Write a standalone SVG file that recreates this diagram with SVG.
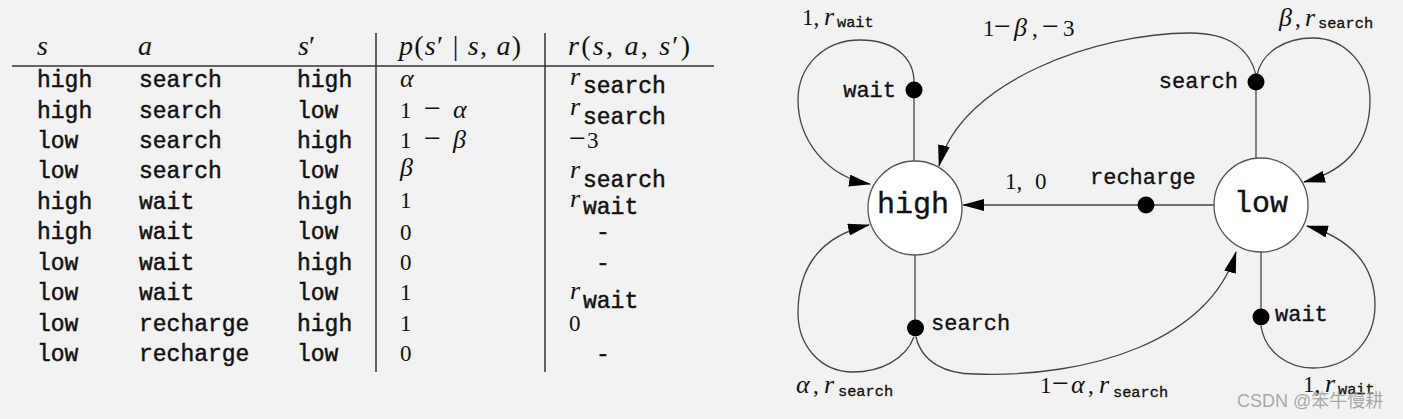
<svg xmlns="http://www.w3.org/2000/svg" width="1403" height="419" viewBox="0 0 1403 419">
<defs>
<style>
.tt{font-family:"Liberation Mono","DejaVu Sans Mono",monospace;font-size:23px;fill:#111;stroke:#111;stroke-width:0.45}
.tts{font-family:"Liberation Mono","DejaVu Sans Mono",monospace;font-size:15.3px;fill:#111;stroke:#111;stroke-width:0.3}
.ttl{font-family:"Liberation Mono","DejaVu Sans Mono",monospace;font-size:22px;fill:#111;stroke:#111;stroke-width:0.35}
.ttn{font-family:"Liberation Mono","DejaVu Sans Mono",monospace;font-size:30px;fill:#111;stroke:#111;stroke-width:0.4}
.m{font-family:"Liberation Serif","DejaVu Serif",serif;font-size:23px;fill:#111}
.mh{font-family:"Liberation Serif","DejaVu Serif",serif;font-size:28px;fill:#111}
.i{font-style:italic}
.g{font-size:26px}
.mn{font-size:30px}
.rule{stroke:#333;stroke-width:1.5;fill:none}
.edge{stroke:#444;stroke-width:1.3;fill:none}
.arr{marker-end:url(#ah)}
.state{fill:#fff;stroke:#555;stroke-width:1.3}
.dot{fill:#000}
</style>
<marker id="ah" markerUnits="userSpaceOnUse" viewBox="0 0 22 12" refX="21" refY="6" markerWidth="22" markerHeight="12" orient="auto">
<path d="M0,0 L22,6 L0,12 z" fill="#000"/>
</marker>
</defs>
<rect width="1403" height="419" fill="#f2f2f2"/>

<g id="table">
<line class="rule" x1="12" y1="66" x2="714" y2="66"/>
<line class="rule" x1="376" y1="33" x2="376" y2="372"/>
<line class="rule" x1="545" y1="33" x2="545" y2="372"/>
<text class="mh i" x="37" y="55">s</text>
<text class="mh i" x="138" y="55">a</text>
<text class="mh" x="298" y="55"><tspan class="i">s</tspan>′</text>
<text class="mh" x="399" y="55" textLength="122" lengthAdjust="spacing"><tspan class="i">p</tspan>(<tspan class="i">s</tspan>′ | <tspan class="i">s</tspan>, <tspan class="i">a</tspan>)</text>
<text class="mh" x="568" y="55" textLength="122" lengthAdjust="spacing"><tspan class="i">r</tspan>(<tspan class="i">s</tspan>, <tspan class="i">a</tspan>, <tspan class="i">s</tspan>′)</text>

<g class="tt">
<text x="37" y="87">high</text><text x="139" y="87">search</text><text x="297" y="87">high</text>
<text x="37" y="117.5">high</text><text x="139" y="117.5">search</text><text x="297" y="117.5">low</text>
<text x="37" y="148">low</text><text x="139" y="148">search</text><text x="297" y="148">high</text>
<text x="37" y="178">low</text><text x="139" y="178">search</text><text x="297" y="178">low</text>
<text x="37" y="208.5">high</text><text x="139" y="208.5">wait</text><text x="297" y="208.5">high</text>
<text x="37" y="239">high</text><text x="139" y="239">wait</text><text x="297" y="239">low</text>
<text x="37" y="269.5">low</text><text x="139" y="269.5">wait</text><text x="297" y="269.5">high</text>
<text x="37" y="300">low</text><text x="139" y="300">wait</text><text x="297" y="300">low</text>
<text x="37" y="330.5">low</text><text x="139" y="330.5">recharge</text><text x="297" y="330.5">high</text>
<text x="37" y="360.5">low</text><text x="139" y="360.5">recharge</text><text x="297" y="360.5">low</text>
</g>

<text class="m i g" x="400" y="86.5">α</text>
<text class="m" y="118"><tspan x="400">1</tspan><tspan x="424" class="mn">−</tspan><tspan x="453" class="i g">α</tspan></text>
<text class="m" y="148"><tspan x="400">1</tspan><tspan x="424" class="mn">−</tspan><tspan x="453" class="i g">β</tspan></text>
<text class="m i g" x="400" y="176">β</text>
<text class="m" x="400" y="208">1</text>
<text class="m" x="400" y="240">0</text>
<text class="m" x="400" y="270">0</text>
<text class="m" x="400" y="300">1</text>
<text class="m" x="400" y="331">1</text>
<text class="m" x="400" y="361">0</text>

<text class="m i g" x="570" y="85">r</text><text class="tt" x="583" y="93">search</text>
<text class="m i g" x="570" y="115">r</text><text class="tt" x="583" y="124">search</text>
<text class="m" y="148"><tspan x="569" class="mn">−</tspan><tspan x="587">3</tspan></text>
<text class="m i g" x="570" y="178">r</text><text class="tt" x="583" y="187">search</text>
<text class="m i g" x="570" y="207">r</text><text class="tt" x="583" y="214">wait</text>
<text class="tt" x="603" y="239" text-anchor="middle">-</text>
<text class="tt" x="603" y="269.5" text-anchor="middle">-</text>
<text class="m i g" x="570" y="299">r</text><text class="tt" x="583" y="308">wait</text>
<text class="m" x="569" y="331">0</text>
<text class="tt" x="603" y="360.5" text-anchor="middle">-</text>
</g>

<g id="connectors">
<line class="edge" x1="914" y1="90" x2="914" y2="161"/>
<line class="edge" x1="915" y1="255" x2="915" y2="328"/>
<line class="edge" x1="1256" y1="82" x2="1256" y2="159"/>
<line class="edge" x1="1261" y1="251" x2="1261" y2="317"/>
<line class="edge" x1="1214" y1="205" x2="1146" y2="205"/>
<line class="edge arr" x1="1146" y1="205" x2="963" y2="205"/>
<path class="edge arr" d="M914,82 C914,60 897,40 860,40 C823,40 798,67 798,100 C798,140 827,177 870,184"/>
<path class="edge arr" d="M914,337 C905,360 880,372 853,372 C820,372 798,345 798,313 C798,268 820,236 869,225"/>
<path class="edge arr" d="M916,337 C922,362 945,374 975,374 C1090,378 1210,340 1236,252"/>
<path class="edge arr" d="M1256,75 C1250,50 1230,33 1190,33 C1100,33 960,80 939,166"/>
<path class="edge arr" d="M1257,75 C1262,52 1285,38 1313,38 C1345,38 1370,65 1370,100 C1370,140 1350,170 1304,182"/>
<path class="edge arr" d="M1261,326 C1265,352 1288,368 1313,368 C1350,368 1375,340 1375,305 C1375,265 1350,238 1307,226"/>

<text class="m" y="25"><tspan x="802">1,</tspan><tspan x="824" class="i g">r</tspan></text><text class="tts" x="837" y="27">wait</text>
<text class="m" y="36"><tspan x="983">1</tspan><tspan x="994" class="mn">−</tspan><tspan x="1014" class="i g">β</tspan><tspan x="1032">,</tspan><tspan x="1042" class="mn">−</tspan><tspan x="1063">3</tspan></text>
<text class="m" y="26"><tspan x="1279" class="i g">β</tspan><tspan x="1295">,</tspan><tspan x="1305" class="i g">r</tspan></text><text class="tts" x="1318" y="28">search</text>
<text class="m" y="189"><tspan x="1005">1,</tspan><tspan x="1035">0</tspan></text>
<text class="m" y="393"><tspan x="796" class="i g">α</tspan><tspan x="813">,</tspan><tspan x="824" class="i g">r</tspan></text><text class="tts" x="838" y="396">search</text>
<text class="m" y="393"><tspan x="1040">1</tspan><tspan x="1052" class="mn">−</tspan><tspan x="1071" class="i g">α</tspan><tspan x="1088">,</tspan><tspan x="1099" class="i g">r</tspan></text><text class="tts" x="1113" y="396.5">search</text>
<text class="m" y="392"><tspan x="1303">1,</tspan><tspan x="1325" class="i g">r</tspan></text><text class="tts" x="1338" y="394">wait</text>
</g>

<g id="node-high">
<circle class="state" cx="915" cy="208" r="47"/>
<text class="ttn" x="913" y="213" text-anchor="middle">high</text>
</g>
<g id="node-low">
<circle class="state" cx="1261" cy="205" r="47"/>
<text class="ttn" x="1261" y="212" text-anchor="middle">low</text>
</g>
<g id="action-high-wait">
<circle class="dot" cx="914" cy="90" r="8.5"/>
<text class="ttl" x="896" y="96.5" text-anchor="end">wait</text>
</g>
<g id="action-high-search">
<circle class="dot" cx="915.5" cy="328" r="8.5"/>
<text class="ttl" x="931" y="330">search</text>
</g>
<g id="action-low-search">
<circle class="dot" cx="1256" cy="82" r="8.5"/>
<text class="ttl" x="1238" y="87.5" text-anchor="end">search</text>
</g>
<g id="action-low-recharge">
<circle class="dot" cx="1146" cy="205" r="8.5"/>
<text class="ttl" x="1090" y="184">recharge</text>
</g>
<g id="action-low-wait">
<circle class="dot" cx="1261" cy="317" r="8.5"/>
<text class="ttl" x="1275" y="321">wait</text>
</g>

<text x="1237" y="407" font-family="Liberation Sans, Noto Sans CJK SC, sans-serif" font-size="18" fill="#9a9a9a" fill-opacity="0.85">CSDN @笨牛慢耕</text>
</svg>
